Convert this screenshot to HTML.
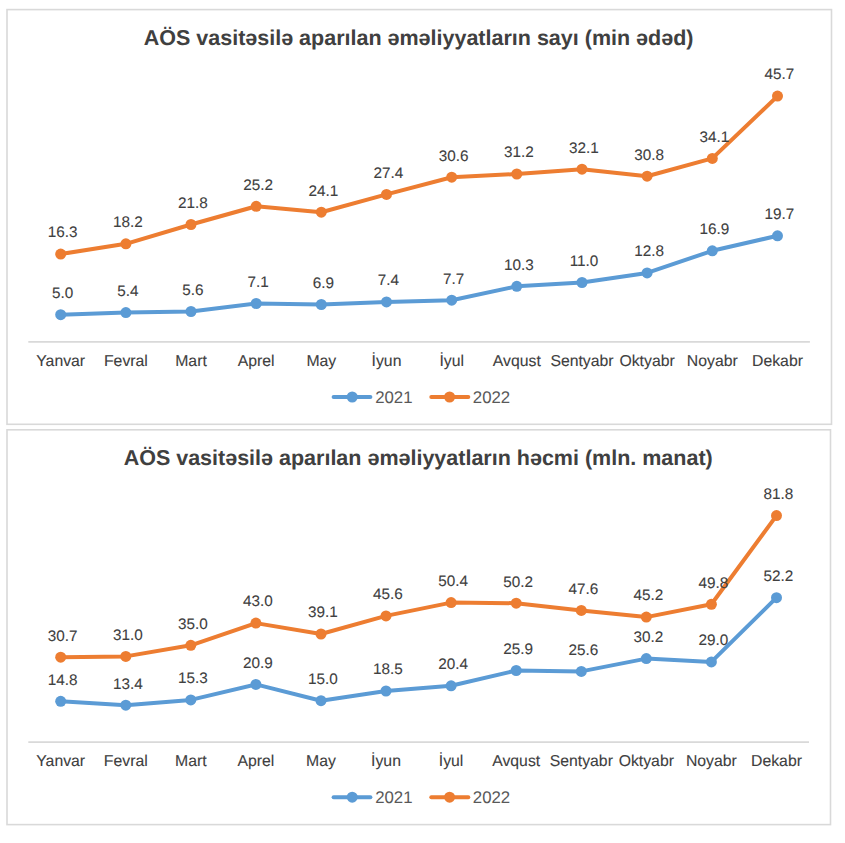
<!DOCTYPE html>
<html><head><meta charset="utf-8"><style>
html,body{margin:0;padding:0;background:#fff;width:845px;height:843px;overflow:hidden}
svg{display:block;font-family:"Liberation Sans",sans-serif;text-rendering:geometricPrecision}
.t{stroke:#404040;stroke-width:0.1px}
</style></head><body>
<svg width="845" height="843" viewBox="0 0 845 843">
<rect width="845" height="843" fill="#fff"/>
<rect x="7" y="9.6" width="824.5" height="414.7" fill="#fff" stroke="#d9d9d9" stroke-width="1.6"/>
<text x="418.6" y="44.8" text-anchor="middle" font-weight="bold" font-size="21.5" fill="#404040">AÖS vasitəsilə aparılan əməliyyatların sayı (min ədəd)</text>
<line x1="28.3" y1="341.9" x2="809.9" y2="341.9" stroke="#d9d9d9" stroke-width="1.8"/>
<text x="60.7" y="366.0" text-anchor="middle" font-size="15.8" fill="#404040" class="t">Yanvar</text>
<text x="125.9" y="366.0" text-anchor="middle" font-size="15.8" fill="#404040" class="t">Fevral</text>
<text x="191.0" y="366.0" text-anchor="middle" font-size="15.8" fill="#404040" class="t">Mart</text>
<text x="256.2" y="366.0" text-anchor="middle" font-size="15.8" fill="#404040" class="t">Aprel</text>
<text x="321.3" y="366.0" text-anchor="middle" font-size="15.8" fill="#404040" class="t">May</text>
<text x="386.5" y="366.0" text-anchor="middle" font-size="15.8" fill="#404040" class="t">İyun</text>
<text x="451.7" y="366.0" text-anchor="middle" font-size="15.8" fill="#404040" class="t">İyul</text>
<text x="516.8" y="366.0" text-anchor="middle" font-size="15.8" fill="#404040" class="t">Avqust</text>
<text x="582.0" y="366.0" text-anchor="middle" font-size="15.8" fill="#404040" class="t">Sentyabr</text>
<text x="647.1" y="366.0" text-anchor="middle" font-size="15.8" fill="#404040" class="t">Oktyabr</text>
<text x="712.3" y="366.0" text-anchor="middle" font-size="15.8" fill="#404040" class="t">Noyabr</text>
<text x="777.5" y="366.0" text-anchor="middle" font-size="15.8" fill="#404040" class="t">Dekabr</text>
<polyline points="60.7,314.7 125.9,312.6 191.0,311.5 256.2,303.5 321.3,304.5 386.5,301.9 451.7,300.2 516.8,286.3 582.0,282.5 647.1,272.9 712.3,250.8 777.5,235.8" fill="none" stroke="#5b9bd5" stroke-width="4.0" stroke-linejoin="round" stroke-linecap="round"/>
<circle cx="60.7" cy="314.7" r="5.5" fill="#5b9bd5"/>
<circle cx="125.9" cy="312.6" r="5.5" fill="#5b9bd5"/>
<circle cx="191.0" cy="311.5" r="5.5" fill="#5b9bd5"/>
<circle cx="256.2" cy="303.5" r="5.5" fill="#5b9bd5"/>
<circle cx="321.3" cy="304.5" r="5.5" fill="#5b9bd5"/>
<circle cx="386.5" cy="301.9" r="5.5" fill="#5b9bd5"/>
<circle cx="451.7" cy="300.2" r="5.5" fill="#5b9bd5"/>
<circle cx="516.8" cy="286.3" r="5.5" fill="#5b9bd5"/>
<circle cx="582.0" cy="282.5" r="5.5" fill="#5b9bd5"/>
<circle cx="647.1" cy="272.9" r="5.5" fill="#5b9bd5"/>
<circle cx="712.3" cy="250.8" r="5.5" fill="#5b9bd5"/>
<circle cx="777.5" cy="235.8" r="5.5" fill="#5b9bd5"/>
<polyline points="60.7,254.1 125.9,243.8 191.0,224.5 256.2,206.3 321.3,212.2 386.5,194.4 451.7,177.2 516.8,174.0 582.0,169.2 647.1,176.2 712.3,158.4 777.5,96.1" fill="none" stroke="#ed7d31" stroke-width="4.0" stroke-linejoin="round" stroke-linecap="round"/>
<circle cx="60.7" cy="254.1" r="5.5" fill="#ed7d31"/>
<circle cx="125.9" cy="243.8" r="5.5" fill="#ed7d31"/>
<circle cx="191.0" cy="224.5" r="5.5" fill="#ed7d31"/>
<circle cx="256.2" cy="206.3" r="5.5" fill="#ed7d31"/>
<circle cx="321.3" cy="212.2" r="5.5" fill="#ed7d31"/>
<circle cx="386.5" cy="194.4" r="5.5" fill="#ed7d31"/>
<circle cx="451.7" cy="177.2" r="5.5" fill="#ed7d31"/>
<circle cx="516.8" cy="174.0" r="5.5" fill="#ed7d31"/>
<circle cx="582.0" cy="169.2" r="5.5" fill="#ed7d31"/>
<circle cx="647.1" cy="176.2" r="5.5" fill="#ed7d31"/>
<circle cx="712.3" cy="158.4" r="5.5" fill="#ed7d31"/>
<circle cx="777.5" cy="96.1" r="5.5" fill="#ed7d31"/>
<text x="62.7" y="298.0" text-anchor="middle" font-size="15.3" fill="#404040" class="t">5.0</text>
<text x="127.9" y="295.9" text-anchor="middle" font-size="15.3" fill="#404040" class="t">5.4</text>
<text x="193.0" y="294.8" text-anchor="middle" font-size="15.3" fill="#404040" class="t">5.6</text>
<text x="258.2" y="286.8" text-anchor="middle" font-size="15.3" fill="#404040" class="t">7.1</text>
<text x="323.3" y="287.8" text-anchor="middle" font-size="15.3" fill="#404040" class="t">6.9</text>
<text x="388.5" y="285.2" text-anchor="middle" font-size="15.3" fill="#404040" class="t">7.4</text>
<text x="453.7" y="283.5" text-anchor="middle" font-size="15.3" fill="#404040" class="t">7.7</text>
<text x="518.8" y="269.6" text-anchor="middle" font-size="15.3" fill="#404040" class="t">10.3</text>
<text x="584.0" y="265.8" text-anchor="middle" font-size="15.3" fill="#404040" class="t">11.0</text>
<text x="649.1" y="256.2" text-anchor="middle" font-size="15.3" fill="#404040" class="t">12.8</text>
<text x="714.3" y="234.1" text-anchor="middle" font-size="15.3" fill="#404040" class="t">16.9</text>
<text x="779.5" y="219.1" text-anchor="middle" font-size="15.3" fill="#404040" class="t">19.7</text>
<text x="62.7" y="237.4" text-anchor="middle" font-size="15.3" fill="#404040" class="t">16.3</text>
<text x="127.9" y="227.1" text-anchor="middle" font-size="15.3" fill="#404040" class="t">18.2</text>
<text x="193.0" y="207.8" text-anchor="middle" font-size="15.3" fill="#404040" class="t">21.8</text>
<text x="258.2" y="189.6" text-anchor="middle" font-size="15.3" fill="#404040" class="t">25.2</text>
<text x="323.3" y="195.5" text-anchor="middle" font-size="15.3" fill="#404040" class="t">24.1</text>
<text x="388.5" y="177.7" text-anchor="middle" font-size="15.3" fill="#404040" class="t">27.4</text>
<text x="453.7" y="160.5" text-anchor="middle" font-size="15.3" fill="#404040" class="t">30.6</text>
<text x="518.8" y="157.3" text-anchor="middle" font-size="15.3" fill="#404040" class="t">31.2</text>
<text x="584.0" y="152.5" text-anchor="middle" font-size="15.3" fill="#404040" class="t">32.1</text>
<text x="649.1" y="159.5" text-anchor="middle" font-size="15.3" fill="#404040" class="t">30.8</text>
<text x="714.3" y="141.7" text-anchor="middle" font-size="15.3" fill="#404040" class="t">34.1</text>
<text x="779.5" y="79.4" text-anchor="middle" font-size="15.3" fill="#404040" class="t">45.7</text>
<line x1="333.6" y1="397.0" x2="370.4" y2="397.0" stroke="#5b9bd5" stroke-width="4.0" stroke-linecap="round"/>
<circle cx="352.2" cy="397.0" r="5.5" fill="#5b9bd5"/>
<text x="375.2" y="402.6" font-size="16.8" fill="#595959">2021</text>
<line x1="431.3" y1="397.0" x2="468.3" y2="397.0" stroke="#ed7d31" stroke-width="4.0" stroke-linecap="round"/>
<circle cx="449.6" cy="397.0" r="5.5" fill="#ed7d31"/>
<text x="472.8" y="402.6" font-size="16.8" fill="#595959">2022</text>
<rect x="7" y="429.8" width="823.5" height="394.8" fill="#fff" stroke="#d9d9d9" stroke-width="1.6"/>
<text x="418.2" y="465.2" text-anchor="middle" font-weight="bold" font-size="21.5" fill="#404040">AÖS vasitəsilə aparılan əməliyyatların həcmi (mln. manat)</text>
<line x1="28.3" y1="742.1" x2="809.0" y2="742.1" stroke="#d9d9d9" stroke-width="1.8"/>
<text x="60.7" y="766.0" text-anchor="middle" font-size="15.8" fill="#404040" class="t">Yanvar</text>
<text x="125.8" y="766.0" text-anchor="middle" font-size="15.8" fill="#404040" class="t">Fevral</text>
<text x="190.8" y="766.0" text-anchor="middle" font-size="15.8" fill="#404040" class="t">Mart</text>
<text x="255.9" y="766.0" text-anchor="middle" font-size="15.8" fill="#404040" class="t">Aprel</text>
<text x="321.0" y="766.0" text-anchor="middle" font-size="15.8" fill="#404040" class="t">May</text>
<text x="386.0" y="766.0" text-anchor="middle" font-size="15.8" fill="#404040" class="t">İyun</text>
<text x="451.1" y="766.0" text-anchor="middle" font-size="15.8" fill="#404040" class="t">İyul</text>
<text x="516.2" y="766.0" text-anchor="middle" font-size="15.8" fill="#404040" class="t">Avqust</text>
<text x="581.3" y="766.0" text-anchor="middle" font-size="15.8" fill="#404040" class="t">Sentyabr</text>
<text x="646.3" y="766.0" text-anchor="middle" font-size="15.8" fill="#404040" class="t">Oktyabr</text>
<text x="711.4" y="766.0" text-anchor="middle" font-size="15.8" fill="#404040" class="t">Noyabr</text>
<text x="776.5" y="766.0" text-anchor="middle" font-size="15.8" fill="#404040" class="t">Dekabr</text>
<polyline points="60.7,701.3 125.8,705.2 190.8,699.9 255.9,684.4 321.0,700.7 386.0,691.0 451.1,685.8 516.2,670.5 581.3,671.4 646.3,658.6 711.4,661.9 776.5,597.7" fill="none" stroke="#5b9bd5" stroke-width="4.0" stroke-linejoin="round" stroke-linecap="round"/>
<circle cx="60.7" cy="701.3" r="5.5" fill="#5b9bd5"/>
<circle cx="125.8" cy="705.2" r="5.5" fill="#5b9bd5"/>
<circle cx="190.8" cy="699.9" r="5.5" fill="#5b9bd5"/>
<circle cx="255.9" cy="684.4" r="5.5" fill="#5b9bd5"/>
<circle cx="321.0" cy="700.7" r="5.5" fill="#5b9bd5"/>
<circle cx="386.0" cy="691.0" r="5.5" fill="#5b9bd5"/>
<circle cx="451.1" cy="685.8" r="5.5" fill="#5b9bd5"/>
<circle cx="516.2" cy="670.5" r="5.5" fill="#5b9bd5"/>
<circle cx="581.3" cy="671.4" r="5.5" fill="#5b9bd5"/>
<circle cx="646.3" cy="658.6" r="5.5" fill="#5b9bd5"/>
<circle cx="711.4" cy="661.9" r="5.5" fill="#5b9bd5"/>
<circle cx="776.5" cy="597.7" r="5.5" fill="#5b9bd5"/>
<polyline points="60.7,657.2 125.8,656.4 190.8,645.3 255.9,623.1 321.0,634.0 386.0,615.9 451.1,602.6 516.2,603.2 581.3,610.4 646.3,617.1 711.4,604.3 776.5,515.6" fill="none" stroke="#ed7d31" stroke-width="4.0" stroke-linejoin="round" stroke-linecap="round"/>
<circle cx="60.7" cy="657.2" r="5.5" fill="#ed7d31"/>
<circle cx="125.8" cy="656.4" r="5.5" fill="#ed7d31"/>
<circle cx="190.8" cy="645.3" r="5.5" fill="#ed7d31"/>
<circle cx="255.9" cy="623.1" r="5.5" fill="#ed7d31"/>
<circle cx="321.0" cy="634.0" r="5.5" fill="#ed7d31"/>
<circle cx="386.0" cy="615.9" r="5.5" fill="#ed7d31"/>
<circle cx="451.1" cy="602.6" r="5.5" fill="#ed7d31"/>
<circle cx="516.2" cy="603.2" r="5.5" fill="#ed7d31"/>
<circle cx="581.3" cy="610.4" r="5.5" fill="#ed7d31"/>
<circle cx="646.3" cy="617.1" r="5.5" fill="#ed7d31"/>
<circle cx="711.4" cy="604.3" r="5.5" fill="#ed7d31"/>
<circle cx="776.5" cy="515.6" r="5.5" fill="#ed7d31"/>
<text x="62.7" y="684.6" text-anchor="middle" font-size="15.3" fill="#404040" class="t">14.8</text>
<text x="127.8" y="688.5" text-anchor="middle" font-size="15.3" fill="#404040" class="t">13.4</text>
<text x="192.8" y="683.2" text-anchor="middle" font-size="15.3" fill="#404040" class="t">15.3</text>
<text x="257.9" y="667.7" text-anchor="middle" font-size="15.3" fill="#404040" class="t">20.9</text>
<text x="323.0" y="684.0" text-anchor="middle" font-size="15.3" fill="#404040" class="t">15.0</text>
<text x="388.0" y="674.3" text-anchor="middle" font-size="15.3" fill="#404040" class="t">18.5</text>
<text x="453.1" y="669.1" text-anchor="middle" font-size="15.3" fill="#404040" class="t">20.4</text>
<text x="518.2" y="653.8" text-anchor="middle" font-size="15.3" fill="#404040" class="t">25.9</text>
<text x="583.3" y="654.7" text-anchor="middle" font-size="15.3" fill="#404040" class="t">25.6</text>
<text x="648.3" y="641.9" text-anchor="middle" font-size="15.3" fill="#404040" class="t">30.2</text>
<text x="713.4" y="645.2" text-anchor="middle" font-size="15.3" fill="#404040" class="t">29.0</text>
<text x="778.5" y="581.0" text-anchor="middle" font-size="15.3" fill="#404040" class="t">52.2</text>
<text x="62.7" y="640.5" text-anchor="middle" font-size="15.3" fill="#404040" class="t">30.7</text>
<text x="127.8" y="639.7" text-anchor="middle" font-size="15.3" fill="#404040" class="t">31.0</text>
<text x="192.8" y="628.6" text-anchor="middle" font-size="15.3" fill="#404040" class="t">35.0</text>
<text x="257.9" y="606.4" text-anchor="middle" font-size="15.3" fill="#404040" class="t">43.0</text>
<text x="323.0" y="617.3" text-anchor="middle" font-size="15.3" fill="#404040" class="t">39.1</text>
<text x="388.0" y="599.2" text-anchor="middle" font-size="15.3" fill="#404040" class="t">45.6</text>
<text x="453.1" y="585.9" text-anchor="middle" font-size="15.3" fill="#404040" class="t">50.4</text>
<text x="518.2" y="586.5" text-anchor="middle" font-size="15.3" fill="#404040" class="t">50.2</text>
<text x="583.3" y="593.7" text-anchor="middle" font-size="15.3" fill="#404040" class="t">47.6</text>
<text x="648.3" y="600.4" text-anchor="middle" font-size="15.3" fill="#404040" class="t">45.2</text>
<text x="713.4" y="587.6" text-anchor="middle" font-size="15.3" fill="#404040" class="t">49.8</text>
<text x="778.5" y="498.9" text-anchor="middle" font-size="15.3" fill="#404040" class="t">81.8</text>
<line x1="333.6" y1="797.2" x2="370.4" y2="797.2" stroke="#5b9bd5" stroke-width="4.0" stroke-linecap="round"/>
<circle cx="352.2" cy="797.2" r="5.5" fill="#5b9bd5"/>
<text x="375.2" y="802.8000000000001" font-size="16.8" fill="#595959">2021</text>
<line x1="431.3" y1="797.2" x2="468.3" y2="797.2" stroke="#ed7d31" stroke-width="4.0" stroke-linecap="round"/>
<circle cx="449.6" cy="797.2" r="5.5" fill="#ed7d31"/>
<text x="472.8" y="802.8000000000001" font-size="16.8" fill="#595959">2022</text>
</svg>
</body></html>
